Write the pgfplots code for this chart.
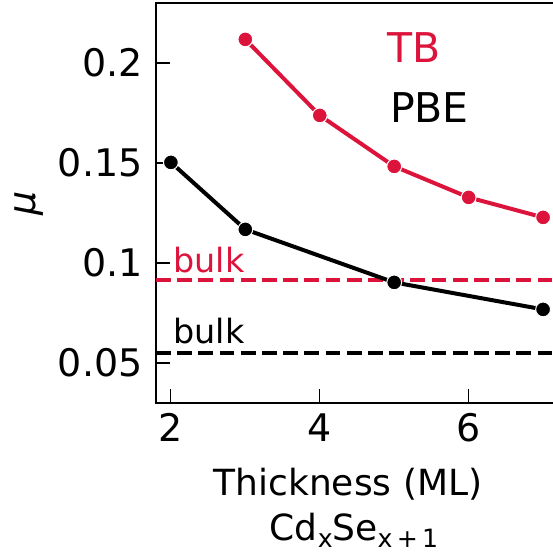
\documentclass[border=0pt]{standalone}
\usepackage{fontspec}
\setmainfont{DejaVu Sans}
\usepackage{pgfplots}
\pgfplotsset{compat=1.18}
\definecolor{crimson}{RGB}{220,20,60}

\newcommand{\sub}[1]{\raisebox{-3.5pt}{\fontsize{12.6}{14}\selectfont #1}}

\begin{document}
\begin{tikzpicture}
\begin{axis}[
    scale only axis,
    width=201pt, height=200pt,
    xmin=1.8, xmax=7.2,
    ymin=0.03, ymax=0.23,
    xtick={2,4,6},
    ytick={0.05,0.1,0.15,0.2},
    yticklabels={0.05,0.1,0.15,0.2},
    tick pos=left,
    tick align=inside,
    major tick length=7pt,
    every tick/.style={black, line width=0.6pt},
    axis line style={line width=0.6pt},
    /pgf/number format/assume math mode=true,
    tick label style={font=\fontsize{19}{22}\selectfont},
    xticklabel style={inner sep=0pt, yshift=-5pt},
    yticklabel style={inner sep=0pt, xshift=-6.5pt},
    clip=false,
]
% bulk reference levels
\addplot[crimson, line width=2pt, dash pattern=on 7.4pt off 3.2pt] coordinates {(1.8,0.0913) (7.2,0.0913)};
\addplot[black, line width=2pt, dash pattern=on 7.4pt off 3.2pt] coordinates {(1.8,0.0548) (7.2,0.0548)};

% TB
\addplot[crimson, line width=2pt, mark=*, mark size=3.7pt,
    mark options={fill=crimson, draw=white, line width=0.5pt}]
    coordinates {(3,0.2118) (4,0.1738) (5,0.1483) (6,0.1328) (7,0.1228)};
% PBE
\addplot[black, line width=2pt, mark=*, mark size=3.7pt,
    mark options={fill=black, draw=white, line width=0.5pt}]
    coordinates {(2,0.1503) (3,0.1168) (5,0.0903) (7,0.0768)};

\node[anchor=base west, inner sep=0pt, text=crimson, font=\fontsize{20.5}{24}\selectfont] at (axis cs:4.91,0.2) {TB};
\node[anchor=base west, inner sep=0pt, font=\fontsize{20.5}{24}\selectfont] at (axis cs:4.94,0.1703) {PBE};
\node[anchor=base west, inner sep=0pt, text=crimson, font=\fontsize{16.7}{20}\selectfont] at (axis cs:2.03,0.0953) {bulk};
\node[anchor=base west, inner sep=0pt, font=\fontsize{16.7}{20}\selectfont] at (axis cs:2.03,0.0598) {bulk};

\node[rotate=90, inner sep=0pt, font=\fontsize{19}{22}\selectfont] at (rel axis cs:-0.316,0.5) {\itshape μ};
\node[anchor=base, inner sep=0pt, font=\fontsize{18}{22}\selectfont] at (rel axis cs:0.4776,-0.23) {Thickness (ML)};
\node[anchor=base, inner sep=0pt, font=\fontsize{18}{22}\selectfont] at (rel axis cs:0.4925,-0.3425) {Cd\sub{x}Se\sub{x\,+\,1}};
\end{axis}
\pgfresetboundingbox
\path[use as bounding box] ([shift={(-78pt,-77pt)}]current axis.south west) rectangle ([shift={(198pt,201.5pt)}]current axis.south west);
\end{tikzpicture}
\end{document}
